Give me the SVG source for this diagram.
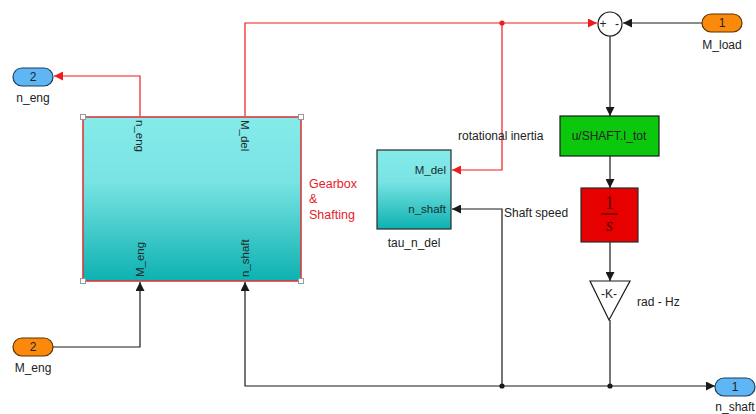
<svg xmlns="http://www.w3.org/2000/svg" width="756" height="414" viewBox="0 0 756 414">
<defs>
<linearGradient id="cyan" x1="0" y1="0" x2="0" y2="1">
<stop offset="0" stop-color="#86eaea"/>
<stop offset="0.4" stop-color="#78e3e3"/>
<stop offset="1" stop-color="#0db1b1"/>
</linearGradient>
<marker id="ak" markerUnits="userSpaceOnUse" markerWidth="9" markerHeight="9" refX="9" refY="4.5" orient="auto">
<path d="M0,0 L9,4.5 L0,9 z" fill="#1a1a1a"/>
</marker>
<marker id="ar" markerUnits="userSpaceOnUse" markerWidth="9" markerHeight="9" refX="9" refY="4.5" orient="auto">
<path d="M0,0 L9,4.5 L0,9 z" fill="#ee1c1c"/>
</marker>
<style>
text{font-family:"Liberation Sans",Arial,sans-serif;font-size:12px;fill:#222}
.pl{font-size:11.5px;fill:#1c2b2b}
.red{fill:#e8202a;font-size:12.5px}
.w{fill:none;stroke:#1a1a1a;stroke-width:1.2}
.wr{fill:none;stroke:#ee1c1c;stroke-width:1.2}
.blue{fill:#5fb6f4;stroke:#1f3d5a;stroke-width:1.2}
.orng{fill:#fb8a0c;stroke:#5a3300;stroke-width:1.2}
.hd{fill:#fff;stroke:#999;stroke-width:1}
.frac{font-family:"Liberation Serif","Times New Roman",serif;font-size:19px;fill:#5a0000}
</style>
</defs>
<rect width="756" height="414" fill="#fff"/>

<g id="connectors">
<path class="wr" d="M140,116 V76 H54" marker-end="url(#ar)"/>
<path class="wr" d="M245,116 V23 H597" marker-end="url(#ar)"/>
<path class="wr" d="M502,23 V170 H452" marker-end="url(#ar)"/>
<circle cx="502" cy="23" r="2.6" fill="#ee1c1c"/>
<path class="w" d="M702,23 H623" marker-end="url(#ak)"/>
<path class="w" d="M610,36 V116" marker-end="url(#ak)"/>
<path class="w" d="M610,156 V188" marker-end="url(#ak)"/>
<path class="w" d="M610,242 V281" marker-end="url(#ak)"/>
<path class="w" d="M610,320 V386"/>
<path class="w" d="M610,386 H715" marker-end="url(#ak)"/>
<path class="w" d="M610,386 H245 V282" marker-end="url(#ak)"/>
<path class="w" d="M502,386 V209 H452" marker-end="url(#ak)"/>
<path class="w" d="M53,347 H140 V282" marker-end="url(#ak)"/>
<circle cx="502" cy="386" r="2.6" fill="#1a1a1a"/>
<circle cx="610" cy="386" r="2.6" fill="#1a1a1a"/>
</g>

<g id="out_n_eng">
<rect class="blue" x="13" y="68" width="40" height="18" rx="9"/>
<text x="33" y="81" text-anchor="middle">2</text>
<text x="33" y="102" text-anchor="middle">n_eng</text>
</g>

<g id="in_M_eng">
<rect class="orng" x="13" y="338" width="40" height="18" rx="9"/>
<text x="33" y="351" text-anchor="middle">2</text>
<text x="33" y="372" text-anchor="middle">M_eng</text>
</g>

<g id="gearbox">
<rect x="83" y="117" width="218" height="164" fill="url(#cyan)" stroke="#d93a3a" stroke-width="1.6"/>
<rect class="hd" x="80.5" y="114.5" width="5" height="5"/>
<rect class="hd" x="298.5" y="114.5" width="5" height="5"/>
<rect class="hd" x="80.5" y="278.5" width="5" height="5"/>
<rect class="hd" x="298.5" y="278.5" width="5" height="5"/>
<text class="pl" transform="translate(140,120) rotate(90)" dominant-baseline="central">n_eng</text>
<text class="pl" transform="translate(245,120) rotate(90)" dominant-baseline="central">M_del</text>
<text class="pl" transform="translate(140,277) rotate(-90)" dominant-baseline="central">M_eng</text>
<text class="pl" transform="translate(245,277) rotate(-90)" dominant-baseline="central">n_shaft</text>
<text class="red" x="309" y="188">Gearbox</text>
<text class="red" x="309" y="203">&amp;</text>
<text class="red" x="309" y="219">Shafting</text>
</g>

<g id="tau_n_del">
<rect x="377" y="150" width="74" height="79" fill="url(#cyan)" stroke="#2a2a2a" stroke-width="1.2"/>
<text class="pl" x="446" y="174" text-anchor="end">M_del</text>
<text class="pl" x="446" y="213" text-anchor="end">n_shaft</text>
<text x="414" y="247" text-anchor="middle">tau_n_del</text>
</g>

<g id="sum">
<circle cx="610" cy="24" r="12" fill="#fff" stroke="#1a1a1a" stroke-width="1.2"/>
<text x="603" y="28" text-anchor="middle" font-size="11">+</text>
<text x="617" y="28" text-anchor="middle" font-size="11">-</text>
</g>

<g id="in_M_load">
<rect class="orng" x="702" y="14" width="40" height="18" rx="9"/>
<text x="722" y="27" text-anchor="middle">1</text>
<text x="722" y="49" text-anchor="middle">M_load</text>
</g>

<g id="inertia">
<rect x="560" y="116" width="99" height="40" fill="#0cc80c" stroke="#1a1a1a" stroke-width="1.2"/>
<text x="609" y="140" text-anchor="middle" fill="#102010">u/SHAFT.I_tot</text>
<text x="458" y="140">rotational inertia</text>
</g>

<g id="integrator">
<rect x="581" y="188" width="57" height="54" fill="#e60000" stroke="#2a2a2a" stroke-width="1.2"/>
<text class="frac" x="609.5" y="209" text-anchor="middle">1</text>
<line x1="601" y1="214" x2="618" y2="214" stroke="#5a0000" stroke-width="1.3"/>
<text class="frac" x="609.5" y="231" text-anchor="middle" font-style="italic">s</text>
<text x="504" y="217">Shaft speed</text>
</g>

<g id="gain">
<path d="M590,281 H630 L609,320 z" fill="#fff" stroke="#1a1a1a" stroke-width="1.2"/>
<text x="609" y="298" text-anchor="middle" font-size="11">-K-</text>
<text x="637" y="306">rad - Hz</text>
</g>

<g id="out_n_shaft">
<rect class="blue" x="715" y="378" width="40" height="18" rx="9"/>
<text x="735" y="391" text-anchor="middle">1</text>
<text x="735" y="411" text-anchor="middle">n_shaft</text>
</g>
</svg>
